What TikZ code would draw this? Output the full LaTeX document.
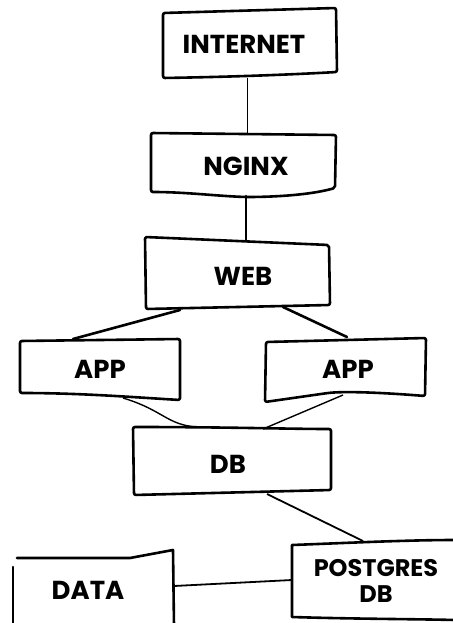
\documentclass[tikz,border=0pt]{standalone}
\usepackage{fontspec}
\setmainfont{Poppins}
\begin{document}
\begin{tikzpicture}[x=1pt,y=-1pt,
  lbl/.style={font=\fontsize{26}{28}\selectfont\bfseries, inner sep=0pt, align=center},
  box/.style={line width=2.6pt, line join=round, line cap=round, rounded corners=2pt},
  thin/.style={line width=1pt},
  mid/.style={line width=1.4pt},
  thick/.style={line width=2.6pt, line cap=round}]
\useasboundingbox (0,0) rectangle (452,623);
% labels
\node[lbl] (internet) at (244,44) {INTERNET};
\node[lbl] (nginx) at (246,166) {NGINX};
\node[lbl] (web) at (243,276) {WEB};
\node[lbl] (app1) at (100,369) {APP};
\node[lbl] (app2) at (348,369) {APP};
\node[lbl] (db) at (228,464) {DB};
\node[lbl, font=\fontsize{24}{26}\selectfont\bfseries] (pg) at (376,581) {POSTGRES\\DB};
\node[lbl] (data) at (88,590) {DATA};
% outlines
\draw[box, shift={(internet.center)}] (-81,-31) -- (92,-36) -- (93,28) .. controls (40,31) and (-20,33) .. (-81,34) -- cycle;
\draw[box, shift={(nginx.center)}] (-95,-33) -- (90,-31) -- (89,22) .. controls (60,30) and (20,31) .. (0,31) .. controls (-30,30) and (-60,26) .. (-95,26) -- cycle;
\draw[box, shift={(web.center)}] (-98,-39) -- (86,-31) -- (87,29) -- (-97,33) -- cycle;
\draw[box, shift={(app1.center)}] (-80,-28) -- (80,-30) -- (80,31) .. controls (30,28) and (-20,24) .. (-80,24) -- cycle;
\draw[box, shift={(app2.center)}] (-82,-27) -- (78,-31) -- (77,27) .. controls (40,24) and (0,22) .. (-20,24) -- (-83,33) -- cycle;
\draw[box, shift={(db.center)}] (-95,-37) .. controls (0,-37) and (60,-35) .. (103,-35) -- (103,26) -- (-94,31) -- cycle;
\draw[box, rounded corners=0pt, shift={(pg.center)}] (79,-41) .. controls (30,-41) and (-30,-38) .. (-84,-36) -- (-84,36) .. controls (-20,38) and (40,38) .. (79,39);
\draw[box, rounded corners=0pt, shift={(data.center)}] (-75,-23) -- (-75,36);
\draw[box, rounded corners=0pt, shift={(data.center)}] (-71,-32) -- (42,-32) -- (85,-40) -- (86,36);
% connectors
\draw[thin] ([shift={(3,34)}]internet.center) -- ([shift={(1,-33)}]nginx.center);
\draw[thick] ([shift={(0,30)}]nginx.center) -- ([shift={(3,-35)}]web.center);
\draw[thick] ([shift={(-63,34)}]web.center) -- ([shift={(-27,-30)}]app1.center);
\draw[thick] ([shift={(40,31)}]web.center) -- ([shift={(-1,-32)}]app2.center);
\draw[mid] ([shift={(23,29)}]app1.center) .. controls +(40,12) and +(-30,-2) .. ([shift={(-31,-37)}]db.center);
\draw[mid] ([shift={(-5,26)}]app2.center) -- ([shift={(35,-35)}]db.center);
\draw[line width=1.8pt] ([shift={(39,30)}]db.center) -- ([shift={(-13,-40)}]pg.center);
\draw[line width=1.8pt] ([shift={(86,-4)}]data.center) -- ([shift={(-84,-1)}]pg.center);
\end{tikzpicture}
\end{document}
